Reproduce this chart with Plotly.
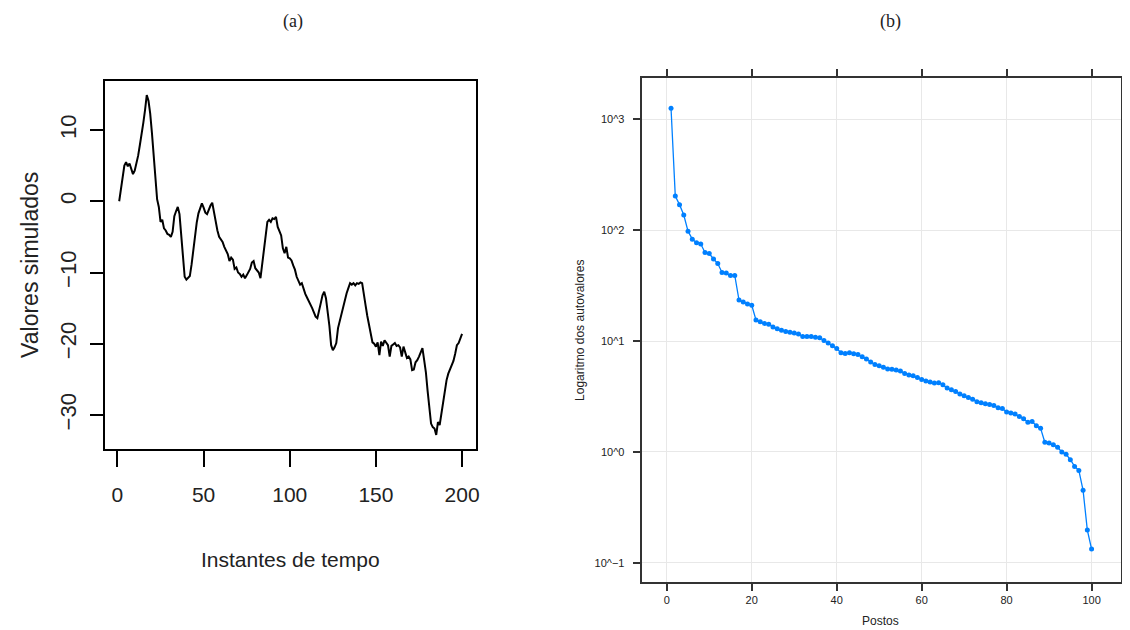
import plotly.graph_objects as go

# ---------------- data ----------------
# (a) simulated series, t = 1..200
tempo = list(range(1, 201))
valores = [
    0.0, 1.6, 3.3, 5.0, 5.5, 4.9, 5.3, 4.4, 3.8, 4.3,
    5.2, 6.4, 7.9, 9.2, 11.0, 12.8, 14.9, 14.1, 12.3, 9.6,
    6.6, 3.4, 0.3, -0.8, -2.9, -2.6, -3.8, -4.1, -4.6, -4.7,
    -5.0, -4.3, -2.1, -1.4, -0.8, -1.8, -4.6, -7.8, -10.6, -11.0,
    -10.7, -10.5, -8.9, -6.8, -4.7, -3.0, -1.7, -0.8, -0.3, -0.9,
    -1.6, -1.8, -1.1, -0.6, -0.2, -1.6, -2.8, -4.1, -5.0, -5.4,
    -5.7, -6.4, -6.9, -7.4, -8.4, -7.9, -8.2, -9.5, -9.3, -10.0,
    -10.2, -10.6, -10.3, -10.8, -10.4, -9.9, -9.5, -8.6, -8.4, -9.4,
    -9.7, -10.0, -10.8, -8.6, -6.5, -4.2, -2.9, -2.6, -2.9, -2.4,
    -2.5, -2.2, -3.6, -4.2, -4.8, -6.6, -7.3, -6.4, -7.9, -8.0,
    -8.3, -9.0, -9.6, -10.6, -11.1, -11.7, -11.5, -12.4, -13.0, -13.5,
    -14.0, -14.3, -15.0, -15.6, -16.2, -16.4, -15.5, -14.3, -13.2, -12.7,
    -13.6, -15.4, -17.5, -20.2, -20.9, -20.5, -19.9, -17.8, -16.8, -15.8,
    -14.8, -13.7, -12.9, -12.2, -11.5, -11.7, -11.5, -11.8, -11.5, -11.6,
    -11.4, -11.5, -13.4, -14.6, -16.1, -17.3, -18.3, -19.8, -20.0, -20.4,
    -19.8, -21.6, -19.7, -20.3, -19.5, -19.9, -20.2, -21.8, -20.3, -20.1,
    -19.9, -20.3, -20.2, -20.5, -21.8, -20.4, -21.2, -22.0, -21.8, -22.2,
    -23.7, -23.6, -22.6, -22.3, -21.8, -21.2, -20.6, -22.3, -24.0, -26.6,
    -28.6, -31.2, -31.7, -31.9, -32.8, -31.0, -31.4, -29.8, -28.4, -27.0,
    -25.1, -24.2, -23.6, -23.0, -22.4, -21.4, -20.2, -19.9, -19.3, -18.6,
]

# (b) eigenvalues, ranks 1..100
postos = list(range(1, 101))
autovalores = [
    1256, 203, 170, 137, 98, 83, 77, 75, 63, 61.5,
    55, 50, 41.5, 41, 39, 39, 23.4, 22.5, 21.6, 21,
    15.5, 14.9, 14.4, 14.2, 13.4, 12.9, 12.5, 12.2, 12.0, 11.8,
    11.6, 11.0, 11.0, 11.0, 10.8, 10.7, 10.1, 9.6, 9.05, 8.55,
    7.84, 7.73, 7.84, 7.67, 7.57, 7.2, 6.9, 6.47, 6.15, 5.98,
    5.8, 5.6, 5.56, 5.48, 5.37, 5.1, 4.93, 4.86, 4.69, 4.49,
    4.36, 4.27, 4.18, 4.21, 4.03, 3.76, 3.63, 3.50, 3.33, 3.21,
    3.10, 2.99, 2.84, 2.78, 2.72, 2.68, 2.62, 2.50, 2.46, 2.29,
    2.24, 2.20, 2.09, 1.99, 1.85, 1.88, 1.72, 1.63, 1.22, 1.20,
    1.16, 1.10, 1.0, 0.95, 0.85, 0.74, 0.68, 0.45, 0.197, 0.133,
]

xticks_a = [0, 50, 100, 150, 200]
yticks_a = [-30, -20, -10, 0, 10]
xticks_b = [0, 20, 40, 60, 80, 100]
yticks_b = [0.1, 1, 10, 100, 1000]
yticklabels_b = ["10^\u22121", "10^0", "10^1", "10^2", "10^3"]

# The page body has an 8px margin, so the figure is drawn 8px smaller and
# all reference positions are shifted by that offset.
OFF = 8
W, H = 1130 - OFF, 630 - OFF

fig = go.Figure()
fig.add_trace(go.Scatter(x=tempo, y=valores, mode="lines",
                         line=dict(color="black", width=2),
                         xaxis="x", yaxis="y", showlegend=False))
fig.add_trace(go.Scatter(x=postos, y=autovalores, mode="lines+markers",
                         line=dict(color="#0080ff", width=1.3),
                         marker=dict(color="#0080ff", size=5),
                         xaxis="x2", yaxis="y2", showlegend=False))

def px(x):
    return (x - OFF) / W

def py(y):
    return 1 - (y - OFF) / H

sans = "Liberation Sans, Arial, sans-serif"

fig.update_layout(
    width=W, height=H, autosize=False,
    margin=dict(l=0, r=0, t=0, b=0),
    paper_bgcolor="white", plot_bgcolor="white",
    font=dict(family=sans, color="black"),
    xaxis=dict(domain=[px(106), px(478.3)], range=[-6.96, 207.96],
               tickmode="array", tickvals=xticks_a,
               ticks="outside", ticklen=16, tickwidth=2, tickcolor="black",
               ticklabelstandoff=10,
               showline=True, linewidth=2, linecolor="black", mirror=True,
               showgrid=False, zeroline=False,
               tickfont=dict(size=21, family=sans, color="#222")),
    yaxis=dict(domain=[py(449), py(80.7)], range=[-34.77, 16.92],
               tickmode="array", tickvals=yticks_a, tickangle=-90,
               ticks="outside", ticklen=13, tickwidth=2, tickcolor="black",
               ticklabelstandoff=6,
               showline=True, linewidth=2, linecolor="black", mirror=True,
               showgrid=False, zeroline=False,
               tickfont=dict(size=22, family=sans, color="#222")),
    xaxis2=dict(domain=[px(645), px(1127)], range=[-5.93, 106.93],
                anchor="y2",
                tickmode="array", tickvals=xticks_b,
                ticks="outside", ticklen=7, tickwidth=1.5, tickcolor="#333",
                showline=True, linewidth=1.8, linecolor="#333", mirror="ticks",
                showgrid=True, gridcolor="#e8e8e8", gridwidth=1, zeroline=False,
                tickfont=dict(size=11, family=sans, color="#222")),
    yaxis2=dict(domain=[py(581.7), py(78.3)], type="log", range=[-1.171, 3.37],
                anchor="x2",
                tickmode="array", tickvals=yticks_b, ticktext=yticklabels_b,
                ticks="outside", ticklen=7, tickwidth=1.5, tickcolor="#333",
                ticklabelstandoff=6,
                showline=True, linewidth=1.8, linecolor="#333", mirror="ticks",
                showgrid=True, gridcolor="#e8e8e8", gridwidth=1, zeroline=False,
                tickfont=dict(size=11, family=sans, color="#222")),
)

annots = [
    dict(text="(a)", x=px(295), y=py(22), font=dict(family="Liberation Serif, serif", size=18, color="#222")),
    dict(text="(b)", x=px(895), y=py(22), font=dict(family="Liberation Serif, serif", size=18, color="#222")),
    dict(text="Instantes de tempo", x=px(292), y=py(559), font=dict(family=sans, size=21, color="#222")),
    dict(text="Valores simulados", x=px(30), y=py(265), textangle=-90, font=dict(family=sans, size=23, color="#222")),
    dict(text="Postos", x=px(885), y=py(621), font=dict(family=sans, size=12, color="#222")),
    dict(text="Logaritmo dos autovalores", x=px(583), y=py(330), textangle=-90, font=dict(family=sans, size=12, color="#222")),
]
for a in annots:
    a.update(xref="paper", yref="paper", showarrow=False, xanchor="center", yanchor="middle")
fig.update_layout(annotations=annots)

fig.write_html("out.html")
